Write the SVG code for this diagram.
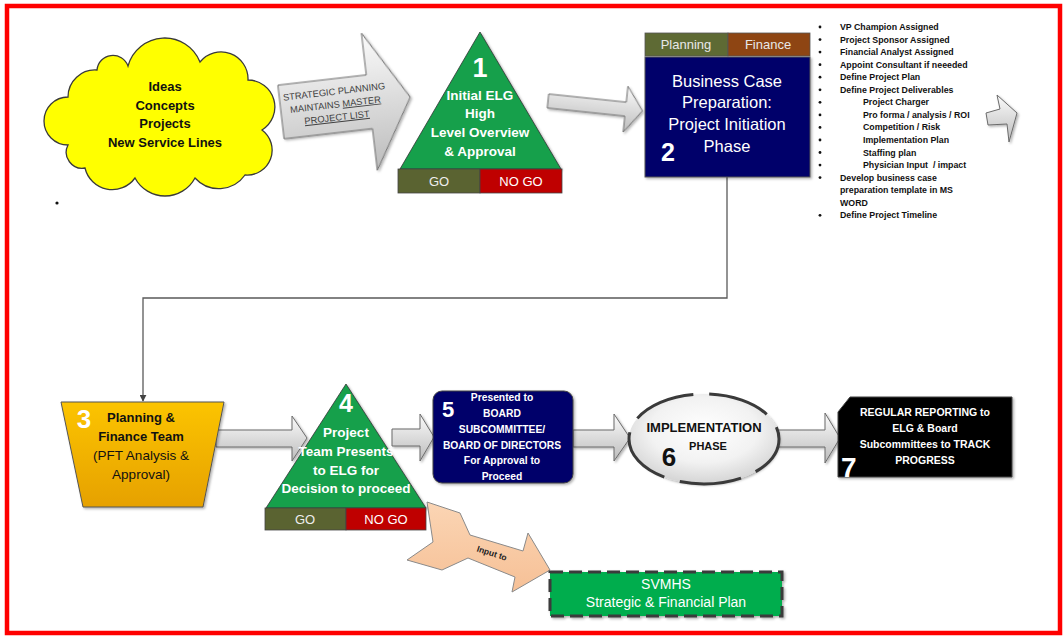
<svg xmlns="http://www.w3.org/2000/svg" width="1063" height="636" viewBox="0 0 1063 636">
<style>
.t{font-family:"Liberation Sans",Arial,sans-serif}
.w{fill:#fff}
.b{font-weight:bold}
.c{text-anchor:middle}
.ga{fill:url(#gg);stroke:#6b6b6b;stroke-width:1}
.bl{font-family:"Liberation Sans",Arial,sans-serif;font-size:8.8px;font-weight:bold;fill:#111}
.edge{fill:none;stroke:#5a5a5a;stroke-width:1.3}
</style>
<defs>
<linearGradient id="gg" x1="0" y1="0" x2="0" y2="1">
<stop offset="0" stop-color="#fbfbfb"/><stop offset="1" stop-color="#bcbcbc"/>
</linearGradient>
<linearGradient id="og" x1="0" y1="0" x2="0" y2="1">
<stop offset="0" stop-color="#fcc400"/><stop offset="1" stop-color="#e6a100"/>
</linearGradient>
<radialGradient id="eg" cx="0.5" cy="0.4" r="0.6">
<stop offset="0" stop-color="#ffffff"/><stop offset="0.6" stop-color="#f2f2f2"/><stop offset="1" stop-color="#d4d4d4"/>
</radialGradient>
<linearGradient id="pg" x1="0" y1="0" x2="0" y2="1">
<stop offset="0" stop-color="#fbd5b4"/><stop offset="1" stop-color="#f6c096"/>
</linearGradient>
<filter id="sh" x="-10%" y="-10%" width="130%" height="130%">
<feDropShadow dx="1.5" dy="1.5" stdDeviation="1.2" flood-color="#000" flood-opacity="0.3"/>
</filter>
<marker id="ah" viewBox="0 0 10 10" refX="9" refY="5" markerWidth="7" markerHeight="7" orient="auto" markerUnits="userSpaceOnUse">
<path d="M0,0 L10,5 L0,10 z" fill="#444"/>
</marker>
</defs>

<rect x="0" y="0" width="1063" height="636" fill="#fff"/>
<rect id="frame" x="7" y="6" width="1053" height="627" fill="none" stroke="#ff0000" stroke-width="4.5"/>

<g id="connectors">
<path class="edge" d="M727,177 V298 H143 V401" marker-end="url(#ah)"/>
<g id="arrow-cloud-1">
<g transform="translate(281,112) rotate(-6.6)">
<polygon class="ga" points="0,-27 89,-27 89,-69 130,0 89,69 89,27 0,27" filter="url(#sh)"/>
<text class="t c" font-size="9.3" fill="#404040" x="55" y="-11">STRATEGIC PLANNING</text>
<text class="t c" font-size="9.3" fill="#404040" x="55" y="2">MAINTAINS <tspan text-decoration="underline">MASTER</tspan></text>
<text class="t c" font-size="9.3" fill="#404040" x="55" y="15" text-decoration="underline">PROJECT LIST</text>
</g>
</g>
<g transform="translate(548,101) rotate(6)">
<polygon class="ga" points="0,-7 78,-7 78,-23 95,0 78,23 78,7 0,7" filter="url(#sh)"/>
</g>
<polygon class="ga" points="986,113 1000,109 997,95 1017,113 1009,142 1007,124 988,125" filter="url(#sh)"/>
<polygon class="ga" points="216,430 292,430 292,416 307,438 292,461 292,447 216,447" filter="url(#sh)"/>
<polygon class="ga" points="392,429 420,429 420,414 434,437 420,461 420,446 392,446" filter="url(#sh)"/>
<polygon class="ga" points="573,430 614,430 614,414 630,438 614,461 614,447 573,447" filter="url(#sh)"/>
<polygon class="ga" points="778,430 825,430 825,413 840,438 825,463 825,447 778,447" filter="url(#sh)"/>
<g id="input-arrow">
<polygon points="427,502 460,513 470,535 523,551 528,533 550,570 512,592 515,577 468,558 442,570 407,560 433,542" fill="url(#pg)" stroke="#8a8a8a" stroke-width="1"/>
<text class="t b c" font-size="8.5" fill="#222" transform="translate(491,556) rotate(18)">Input to</text>
</g>
</g>

<g id="cloud">
<path d="M68,145 A24,24 0 0 1 68,97 A27,27 0 0 1 97,70 A16,16 0 0 1 128,66 A38,38 0 0 1 200,62 A27,27 0 0 1 248,80 A27,27 0 0 1 262,130 A25,25 0 0 1 245,175 A32,32 0 0 1 195,178 A34,34 0 0 1 135,178 A28,28 0 0 1 85,168 A16,16 0 0 1 68,145 Z" fill="#ffff00" stroke="#3a3a3a" stroke-width="1.3"/>
<text class="t b c" font-size="13" fill="#111" x="165" y="91">Ideas</text>
<text class="t b c" font-size="13" fill="#111" x="165" y="110">Concepts</text>
<text class="t b c" font-size="13" fill="#111" x="165" y="128">Projects</text>
<text class="t b c" font-size="13" fill="#111" x="165" y="147">New Service Lines</text>
</g>
<circle cx="57" cy="203" r="1.6" fill="#111"/>

<g id="node1">
<polygon points="480,32 400,169 561,169" fill="#13a04b" stroke="#333" stroke-width="0.8" filter="url(#sh)"/>
<rect x="398" y="169" width="82" height="24" fill="#5a6331" stroke="#444" stroke-width="0.8"/>
<rect x="480" y="169" width="82" height="24" fill="#bf0000" stroke="#444" stroke-width="0.8"/>
<text class="t b c w" font-size="27" x="480" y="77">1</text>
<text class="t b c w" font-size="13.5" x="480" y="100">Initial ELG</text>
<text class="t b c w" font-size="13.5" x="480" y="118">High</text>
<text class="t b c w" font-size="13.5" x="480" y="137">Level Overview</text>
<text class="t b c w" font-size="13.5" x="480" y="156">&amp; Approval</text>
<text class="t c" font-size="13" fill="#eee" x="439" y="186">GO</text>
<text class="t c w" font-size="13" x="521" y="186">NO GO</text>
</g>

<g id="node2">
<rect x="645" y="33" width="83" height="23" fill="#5e6a34" stroke="#555" stroke-width="0.8"/>
<rect x="728" y="33" width="82" height="23" fill="#8e4513" stroke="#555" stroke-width="0.8"/>
<rect x="645" y="57" width="165" height="120" fill="#04046a" stroke="#555" stroke-width="1" filter="url(#sh)"/>
<text class="t c" font-size="13" fill="#e8e8e8" x="686" y="49">Planning</text>
<text class="t c" font-size="13" fill="#e8e8e8" x="768" y="49">Finance</text>
<text class="t c w" font-size="16.5" x="727" y="87">Business Case</text>
<text class="t c w" font-size="16.5" x="727" y="108">Preparation:</text>
<text class="t c w" font-size="16.5" x="727" y="130">Project Initiation</text>
<text class="t c w" font-size="16.5" x="727" y="152">Phase</text>
<text class="t b c w" font-size="25" x="668" y="161">2</text>
</g>

<g id="bullets">
<g fill="#111">
<circle cx="820" cy="27" r="1.4"/><circle cx="820" cy="39.6" r="1.4"/><circle cx="820" cy="52.1" r="1.4"/><circle cx="820" cy="64.7" r="1.4"/>
<circle cx="820" cy="77.2" r="1.4"/><circle cx="820" cy="89.8" r="1.4"/><circle cx="820" cy="102.3" r="1.4"/><circle cx="820" cy="114.9" r="1.4"/>
<circle cx="820" cy="127.4" r="1.4"/><circle cx="820" cy="140" r="1.4"/><circle cx="820" cy="152.5" r="1.4"/><circle cx="820" cy="165.1" r="1.4"/>
<circle cx="820" cy="177.6" r="1.4"/><circle cx="820" cy="215.3" r="1.4"/>
</g>
<text class="bl" x="840" y="30">VP Champion Assigned</text>
<text class="bl" x="840" y="42.6">Project Sponsor Assigned</text>
<text class="bl" x="840" y="55.1">Financial Analyst Assigned</text>
<text class="bl" x="840" y="67.7">Appoint Consultant if neeeded</text>
<text class="bl" x="840" y="80.2">Define Project Plan</text>
<text class="bl" x="840" y="92.8">Define Project Deliverables</text>
<text class="bl" x="863" y="105.3">Project Charger</text>
<text class="bl" x="863" y="117.9">Pro forma / analysis / ROI</text>
<text class="bl" x="863" y="130.4">Competition / Risk</text>
<text class="bl" x="863" y="143">Implementation Plan</text>
<text class="bl" x="863" y="155.5">Staffing plan</text>
<text class="bl" x="863" y="168.1" xml:space="preserve">Physician Input  / impact</text>
<text class="bl" x="840" y="180.6">Develop business case</text>
<text class="bl" x="840" y="193.2">preparation template in MS</text>
<text class="bl" x="840" y="205.7">WORD</text>
<text class="bl" x="840" y="218.3">Define Project Timeline</text>
</g>

<g id="node3">
<polygon points="61,402 224,402 203,507 83,507" fill="url(#og)" stroke="#555" stroke-width="1" filter="url(#sh)"/>
<text class="t b c w" font-size="26" x="84" y="428">3</text>
<text class="t b c" font-size="13" fill="#111" x="141" y="422">Planning &amp;</text>
<text class="t b c" font-size="13" fill="#111" x="141" y="441">Finance Team</text>
<text class="t c" font-size="13.5" fill="#111" x="141" y="460">(PFT Analysis &amp;</text>
<text class="t c" font-size="13.5" fill="#111" x="141" y="479">Approval)</text>
</g>

<g id="node4">
<polygon points="346,384 266,508 426,508" fill="#13a04b" stroke="#333" stroke-width="0.8" filter="url(#sh)"/>
<rect x="265" y="508" width="81" height="22" fill="#5a6331" stroke="#444" stroke-width="0.8"/>
<rect x="346" y="508" width="80" height="22" fill="#bf0000" stroke="#444" stroke-width="0.8"/>
<text class="t b c w" font-size="25" x="346" y="412">4</text>
<text class="t b c w" font-size="13.5" x="346" y="437">Project</text>
<text class="t b c w" font-size="13.5" x="346" y="456">Team Presents</text>
<text class="t b c w" font-size="13.5" x="346" y="475">to ELG for</text>
<text class="t b c w" font-size="13.5" x="346" y="493">Decision to proceed</text>
<text class="t c" font-size="13" fill="#eee" x="305" y="524">GO</text>
<text class="t c w" font-size="13" x="386" y="524">NO GO</text>
</g>

<g id="node5">
<rect x="433" y="391" width="140" height="92" rx="9" fill="#04046a" stroke="#444" stroke-width="1" filter="url(#sh)"/>
<text class="t b w" font-size="22" x="442" y="417">5</text>
<text class="t b c w" font-size="10.3" x="502" y="401">Presented to</text>
<text class="t b c w" font-size="10.3" x="502" y="417">BOARD</text>
<text class="t b c w" font-size="10.3" x="502" y="433">SUBCOMMITTEE/</text>
<text class="t b c w" font-size="10.3" x="502" y="449">BOARD OF DIRECTORS</text>
<text class="t b c w" font-size="10.3" x="502" y="464">For Approval to</text>
<text class="t b c w" font-size="10.3" x="502" y="480">Proceed</text>
</g>

<g id="node6">
<ellipse cx="704" cy="439" rx="75" ry="45" fill="url(#eg)" filter="url(#sh)"/>
<ellipse cx="704" cy="439" rx="75" ry="45" fill="none" stroke="#3a3a3a" stroke-width="3" stroke-dasharray="62 16" stroke-dashoffset="20"/>
<text class="t b c" font-size="13" fill="#111" x="704" y="432">IMPLEMENTATION</text>
<text class="t b c" font-size="11" fill="#111" x="708" y="450">PHASE</text>
<text class="t b c" font-size="26" fill="#111" x="669" y="466">6</text>
</g>

<g id="node7">
<polygon points="850,397 1012,397 1012,477 838,477 838,412" fill="#000" stroke="#444" stroke-width="1" filter="url(#sh)"/>
<text class="t b c w" font-size="10.5" x="925" y="416">REGULAR REPORTING to</text>
<text class="t b c w" font-size="10.5" x="925" y="432">ELG &amp; Board</text>
<text class="t b c w" font-size="10.5" x="925" y="448">Subcommittees to TRACK</text>
<text class="t b c w" font-size="10.5" x="925" y="464">PROGRESS</text>
<text class="t b w" font-size="28" x="841" y="477">7</text>
</g>

<g id="svmhs">
<rect x="550" y="572" width="232" height="44" fill="#00ad4e" stroke="#3a3a3a" stroke-width="3" stroke-dasharray="13 6" filter="url(#sh)"/>
<text class="t c w" font-size="14" x="666" y="589">SVMHS</text>
<text class="t c w" font-size="14" x="666" y="607">Strategic &amp; Financial Plan</text>
</g>
</svg>
